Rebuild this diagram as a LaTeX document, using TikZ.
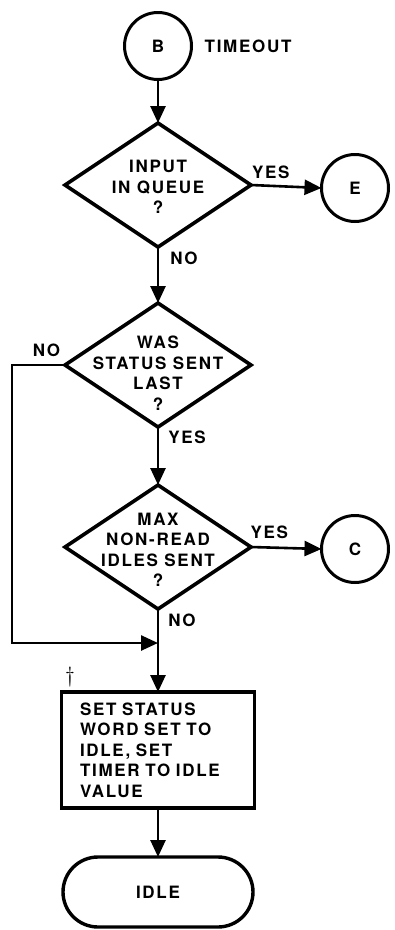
\documentclass[tikz,border=0pt]{standalone}
\usepackage{fontspec}
\newfontfamily\flowfamily[LetterSpace=10, BoldFeatures={LetterSpace=10}]{TeX Gyre Heros}
\usetikzlibrary{positioning,shapes.geometric,arrows.meta}

\newcommand{\flowfont}{\flowfamily\bfseries\fontsize{17}{20.5}\selectfont}

\tikzset{
  conn/.style={circle, draw, line width=3pt, minimum size=67pt, inner sep=0pt, outer sep=0pt, font=\flowfont},
  decision/.style={diamond, draw, line width=3.6pt, minimum width=186pt, minimum height=124pt, inner sep=0pt, outer sep=0pt},
  dtext/.style={align=center, inner sep=0pt, font=\flowfont},
  process/.style={rectangle, draw, line width=3.4pt, minimum width=193pt, minimum height=116pt, text width=156pt, align=left, outer sep=0pt, font=\flowfont},
  terminal/.style={rectangle, rounded corners=35pt, draw, line width=3.4pt, minimum width=190pt, minimum height=70pt, outer sep=0pt, font=\flowfont},
  flow/.style={line width=2.6pt, -{Triangle[width=15pt,length=17pt]}},
  link/.style={line width=2.6pt},
  lbl/.style={font=\flowfont, inner sep=0pt},
}

\begin{document}
\begin{tikzpicture}[x=1pt,y=-1pt]
    \useasboundingbox (0,0) rectangle (395,930);

    % entry
    \node[conn] (B) at (158,46) {B};
    \node[lbl, right=13pt of B.east, anchor=west] (timeout) {TIMEOUT};

    % decisions
    \node[decision] (q1) at (158,185) {};
    \node[dtext] (q1t) at (158,187) {INPUT\\IN QUEUE\\?};
    \node[conn] (E) at (355,188) {E};

    \node[decision] (q2) at (158,365) {};
    \node[dtext] (q2t) at (158,373) {WAS\\STATUS SENT\\LAST\\?};

    \node[decision] (q3) at (158,547) {};
    \node[dtext] (q3t) at (158,550) {MAX\\NON-READ\\IDLES SENT\\?};
    \node[conn] (C) at (355,549) {C};

    % action and end
    \node[font=\fontsize{22}{22}\selectfont, inner sep=0pt] (dag) at (70,677) {\textdagger};
    \node[process] (setidle) at (158,750) {SET STATUS\\WORD SET TO\\IDLE, SET\\TIMER TO IDLE\\VALUE};
    \node[terminal] (idle) at (158,892) {IDLE};

    \coordinate (loop) at (12,365);
    \coordinate (join) at (158,643);

    % connectors
    \draw[flow] (B) -- (q1.north);
    \draw[flow] (q1.east) -- node[lbl, pos=0.28, above=6pt] {YES} (E.west);
    \draw[flow] (q1.south) -- node[lbl, pos=0.2, right=11pt] {NO} (q2.north);
    \draw[flow] (q2.west) -- node[lbl, pos=0.35, above=7pt] {NO} (loop) |- (join);
    \draw[flow] (q2.south) -- node[lbl, pos=0.17, right=9pt] {YES} (q3.north);
    \draw[flow] (q3.east) -- node[lbl, pos=0.26, above=8pt] {YES} (C.west);
    \draw[link] (q3.south) -- node[lbl, pos=0.34, right=9pt] {NO} (join);
    \draw[flow] (join) -- (setidle.north);
    \draw[flow] (setidle.south) -- (idle.north);
\end{tikzpicture}
\end{document}
